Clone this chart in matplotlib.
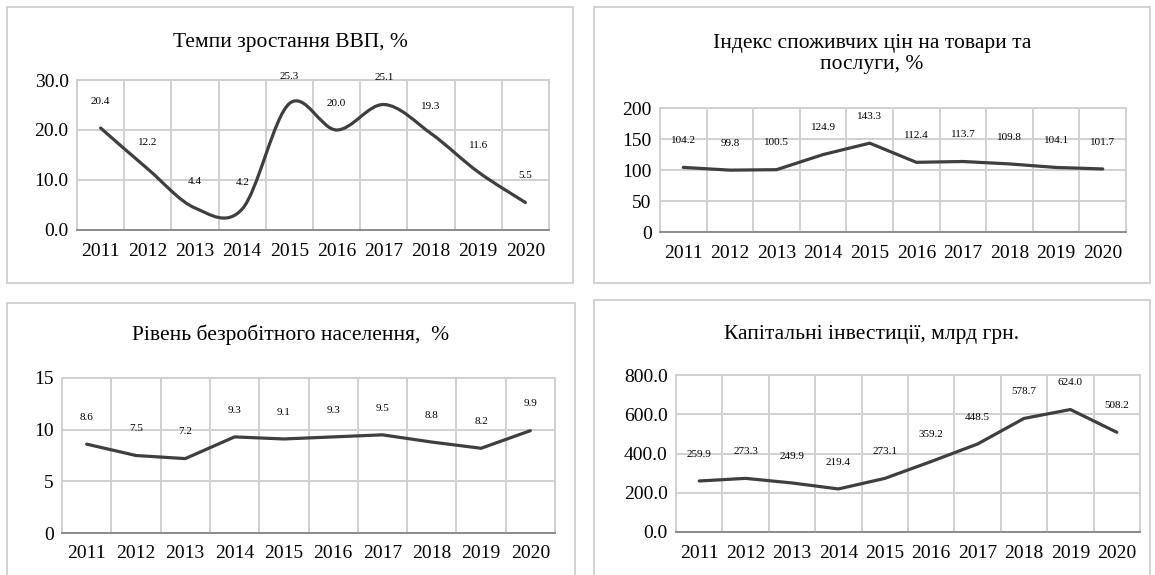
import matplotlib
matplotlib.use("Agg")
import matplotlib.pyplot as plt
from matplotlib.path import Path
from matplotlib.patches import PathPatch, Rectangle
import numpy as np

plt.rcParams['font.family'] = ['Liberation Serif', 'DejaVu Serif']

years = ["2011", "2012", "2013", "2014", "2015", "2016", "2017", "2018", "2019", "2020"]

gdp_growth = [20.4, 12.2, 4.4, 4.2, 25.3, 20.0, 25.1, 19.3, 11.6, 5.5]
cpi = [104.2, 99.8, 100.5, 124.9, 143.3, 112.4, 113.7, 109.8, 104.1, 101.7]
unemployment = [8.6, 7.5, 7.2, 9.3, 9.1, 9.3, 9.5, 8.8, 8.2, 9.9]
investment = [259.9, 273.3, 249.9, 219.4, 273.1, 359.2, 448.5, 578.7, 624.0, 508.2]

W, H = 1155, 575
fig = plt.figure(figsize=(W / 100, H / 100), dpi=100)

LINE_C = '#3f3f3f'
GRID_C = '#d0d0d0'
BOX_C = '#cfcfcf'


def px_rect(x0, y0, x1, y1):
    return [x0 / W, 1 - y1 / H, (x1 - x0) / W, (y1 - y0) / H]


def smooth_path(xs, ys):
    pts = np.column_stack([xs, ys]).astype(float)
    n = len(pts)
    verts = [pts[0]]
    codes = [Path.MOVETO]
    for i in range(n - 1):
        p0 = pts[i - 1] if i > 0 else pts[i]
        p1 = pts[i]
        p2 = pts[i + 1]
        p3 = pts[i + 2] if i + 2 < n else pts[i + 1]
        c1 = p1 + (p2 - p0) / 6.0
        c2 = p2 - (p3 - p1) / 6.0
        verts += [c1, c2, p2]
        codes += [Path.CURVE4] * 3
    return Path(verts, codes)


def panel(box, axrect, title, values, ymax, ystep, fmt, smooth, label_fmt, title_y):
    bx0, by0, bx1, by1 = box
    fig.patches.append(Rectangle((bx0 / W, 1 - by1 / H), (bx1 - bx0) / W, (by1 - by0) / H,
                                 transform=fig.transFigure, fill=False,
                                 edgecolor=BOX_C, linewidth=1.3, zorder=0))
    ax = fig.add_axes(px_rect(*axrect))
    x = np.arange(len(years))
    if smooth:
        ax.add_patch(PathPatch(smooth_path(x, values), facecolor='none',
                               edgecolor=LINE_C, linewidth=2.3, zorder=3,
                               capstyle='round', joinstyle='round'))
    else:
        ax.plot(x, values, color=LINE_C, linewidth=2.3, zorder=3,
                solid_joinstyle='round', solid_capstyle='round')
    ax.set_xlim(-0.5, len(years) - 0.5)
    ax.set_ylim(0, ymax)
    ticks = np.arange(0, ymax + ystep / 2, ystep)
    ax.set_yticks(ticks)
    ax.set_yticklabels([fmt.format(v) for v in ticks])
    ax.set_xticks(x)
    ax.set_xticklabels(years)
    ax.set_xticks(np.arange(0.5, len(years) - 0.5, 1), minor=True)
    ax.tick_params(axis='both', which='both', length=0, labelsize=14, colors='#000000')
    ax.tick_params(axis='x', pad=9)
    ax.tick_params(axis='y', pad=6)
    ax.grid(True, axis='y', which='major', color=GRID_C, linewidth=1.4)
    ax.grid(True, axis='x', which='minor', color=GRID_C, linewidth=1.4)
    ax.set_axisbelow(True)
    for s in ['left', 'top', 'right']:
        ax.spines[s].set_color(GRID_C)
        ax.spines[s].set_linewidth(1.4)
    ax.spines['bottom'].set_color('#8c8c8c')
    ax.spines['bottom'].set_linewidth(1.4)
    for xi, v in zip(x, values):
        ax.annotate(label_fmt.format(v), (xi, v), xytext=(0, 16), textcoords='offset points',
                    ha='center', va='bottom', fontsize=8, color='#000000', zorder=4)
    cx = (bx0 + bx1) / 2
    fig.text(cx / W, 1 - title_y / H, title, ha='center', va='center', fontsize=15.5)
    return ax


panel((7, 7, 573, 283), (77, 80, 549, 230), "Темпи зростання ВВП, %",
      gdp_growth, 30, 10, "{:.1f}", True, "{:.1f}", 42)
panel((594, 7, 1150, 283), (660, 108, 1126, 232), "Індекс споживчих цін на товари та\nпослуги, %",
      cpi, 200, 50, "{:.0f}", False, "{:.1f}", 54)
panel((7, 303, 575, 580), (62, 378, 555, 533), "Рівень безробітного населення,  %",
      unemployment, 15, 5, "{:.0f}", False, "{:.1f}", 335)
panel((594, 300, 1150, 580), (676, 375, 1140, 532), "Капітальні інвестиції, млрд грн.",
      investment, 800, 200, "{:.1f}", False, "{:.1f}", 335)

fig.savefig("out.png", dpi=100, facecolor='white')
